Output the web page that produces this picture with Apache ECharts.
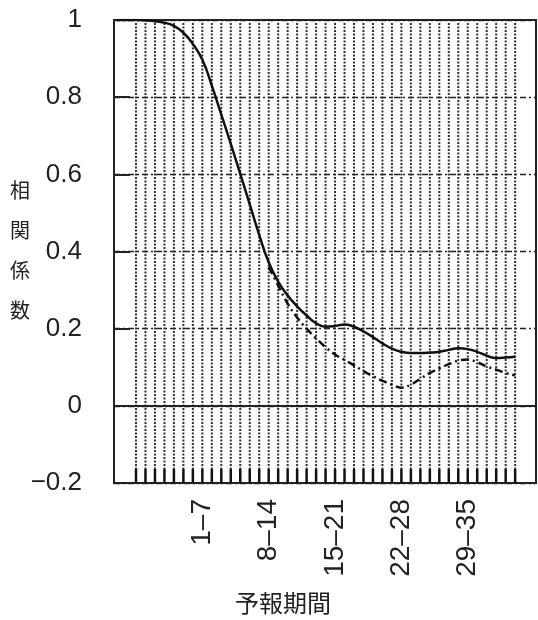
<!DOCTYPE html>
<html><head><meta charset="utf-8">
<script src="https://cdn.jsdelivr.net/npm/echarts@6/dist/echarts.min.js"></script>
<style>html,body{margin:0;padding:0;background:#fff}#c{width:538px;height:620px}</style>
</head><body><div id="c"></div>
<script>
// forecast day index (x) — tick labels placed at the end day of each 7-day window
const tickDays = [7, 14, 21, 28, 35];
const tickLabels = ['1–7', '8–14', '15–21', '22–28', '29–35'];
// days with vertical dotted grid lines
const gridDays = [0,1,2,3,4,5,6,7,8,9,10,11,12,13,14,15,16,17,18,19,20,21,22,23,24,25,26,27,28,29,30,31,32,33,34,35,36,37,38,39,40];
// solid curve
const solidDays = [-2,-1,0,1,2,3,4,5,6,7,8,9,10,11,12,13,14,15,16,17,18,19,20,21,22,23,24,25,26,27,28,29,30,31,32,33,34,35,36,37,38,39,40];
const solidValues = [1.0,1.0,1.0,0.999,0.997,0.993,0.985,0.967,0.938,0.897,0.83,0.755,0.679,0.601,0.522,0.443,0.372,0.322,0.286,0.258,0.234,0.214,0.205,0.207,0.211,0.205,0.193,0.178,0.162,0.148,0.14,0.137,0.137,0.138,0.14,0.145,0.149,0.147,0.14,0.13,0.124,0.125,0.127];
// dashed curve
const dashedDays = [14,15,16,17,18,19,20,21,22,23,24,25,26,27,28,29,30,31,32,33,34,35,36,37,38,39,40];
const dashedValues = [0.36,0.312,0.265,0.229,0.2,0.175,0.152,0.133,0.119,0.105,0.09,0.077,0.065,0.055,0.047,0.055,0.07,0.085,0.097,0.108,0.117,0.12,0.113,0.102,0.094,0.085,0.079];
const yMin = -0.2, yMax = 1, yStep = 0.2;

const FONT = 'Liberation Sans, Arial, sans-serif';
const chart = echarts.init(document.getElementById('c'), null, {renderer: 'canvas'});
chart.setOption({
  animation: false,
  backgroundColor: '#fff',
  grid: {left: 114, top: 20, right: 2, bottom: 137, show: true, borderColor: '#222', borderWidth: 2, containLabel: false},
  xAxis: {
    type: 'value', min: -2.32, max: 42.2,
    axisLine: {show: false, onZero: false}, axisTick: {show: false}, splitLine: {show: false},
    axisLabel: {
      customValues: tickDays,
      formatter: v => tickLabels[tickDays.indexOf(v)] || '',
      rotate: 90, margin: 16, fontSize: 28, color: '#222', fontFamily: FONT
    }
  },
  yAxis: {
    type: 'value', min: yMin, max: yMax, interval: yStep,
    axisLine: {show: false, onZero: false},
    axisTick: {show: true, inside: true, length: 16, lineStyle: {color: '#222', width: 2}},
    splitLine: {show: true, lineStyle: {color: '#222', width: 1.4, type: [6, 3, 2, 3]}},
    axisLabel: {
      margin: 32, fontSize: 26, color: '#222', fontFamily: FONT,
      formatter: v => v < 0 ? '−' + String(+Math.abs(v).toFixed(1)) : String(+v.toFixed(1))
    }
  },
  series: [
    {
      type: 'custom', silent: true, z: 1,
      data: gridDays.map(d => [d, 0]),
      renderItem: (params, api) => {
        const d = api.value(0);
        const top = api.coord([d, yMax]);
        const bot = api.coord([d, yMin]);
        return {type: 'group', children: [
          {type: 'line', shape: {x1: top[0], y1: top[1] + 3, x2: bot[0], y2: bot[1] - 14},
           style: {stroke: '#333', lineWidth: 2, lineDash: [2, 1.5]}},
          {type: 'line', shape: {x1: bot[0], y1: bot[1] - 14, x2: bot[0], y2: bot[1]},
           style: {stroke: '#111', lineWidth: 2.5}}
        ]};
      }
    },
    {
      type: 'line', z: 5, smooth: true, symbol: 'none',
      data: solidDays.map((d, i) => [d, solidValues[i]]),
      lineStyle: {color: '#111', width: 2.5},
      markLine: {
        silent: true, symbol: 'none', label: {show: false},
        lineStyle: {color: '#222', width: 2, type: 'solid'},
        data: [{yAxis: 0}]
      }
    },
    {
      type: 'line', z: 4, smooth: true, symbol: 'none',
      data: dashedDays.map((d, i) => [d, dashedValues[i]]),
      lineStyle: {color: '#111', width: 2.5, type: [8, 4, 2, 4]}
    }
  ],
  graphic: [
    {type: 'text', left: 10, top: 170, style: {text: '相\n関\n係\n数', fontSize: 20, lineHeight: 40, fill: '#222', fontFamily: 'Noto Sans CJK JP', textAlign: 'left'}},
    {type: 'text', x: 283, y: 603, style: {text: '予報期間', fontSize: 24, fill: '#222', fontFamily: 'Noto Sans CJK JP', align: 'center', verticalAlign: 'middle'}}
  ]
});
</script></body></html>
